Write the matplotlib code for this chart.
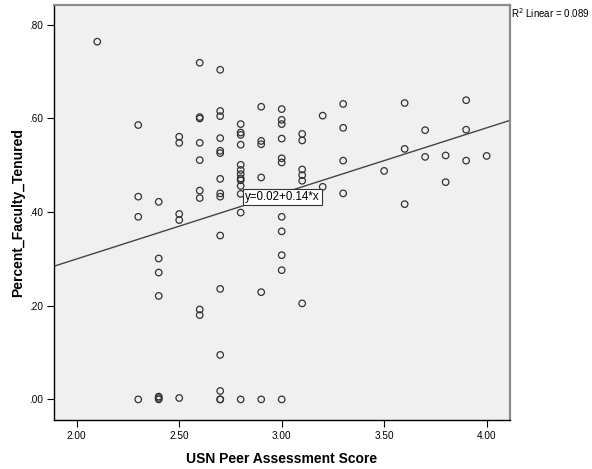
import matplotlib.pyplot as plt
import numpy as np

plt.rcParams['font.family'] = ['Liberation Sans', 'DejaVu Sans']

# USN peer assessment score (x) and percent faculty tenured (y), grouped by score
score = ([2.1] +
         [2.3] * 4 +
         [2.4] * 7 +
         [2.5] * 5 +
         [2.6] * 9 +
         [2.7] * 15 +
         [2.8] * 13 +
         [2.9] * 6 +
         [3.0] * 11 +
         [3.1] * 6 +
         [3.2] * 2 +
         [3.3] * 4 +
         [3.5] +
         [3.6] * 3 +
         [3.7] * 2 +
         [3.8] * 2 +
         [3.9] * 3 +
         [4.0])
tenured = ([0.764] +
           [0.586, 0.433, 0.390, 0.0] +
           [0.422, 0.301, 0.271, 0.221, 0.0, 0.003, 0.006] +
           [0.561, 0.548, 0.396, 0.383, 0.003] +
           [0.719, 0.603, 0.600, 0.548, 0.511, 0.446, 0.430, 0.192, 0.180] +
           [0.704, 0.616, 0.605, 0.558, 0.531, 0.526, 0.471, 0.440, 0.433,
            0.350, 0.236, 0.095, 0.018, 0.0, 0.0] +
           [0.588, 0.570, 0.565, 0.544, 0.501, 0.490, 0.481, 0.472, 0.468,
            0.456, 0.439, 0.399, 0.0] +
           [0.625, 0.552, 0.545, 0.474, 0.229, 0.0] +
           [0.620, 0.597, 0.588, 0.557, 0.515, 0.506, 0.390, 0.359, 0.308,
            0.276, 0.0] +
           [0.567, 0.553, 0.491, 0.479, 0.467, 0.205] +
           [0.606, 0.454] +
           [0.631, 0.580, 0.510, 0.440] +
           [0.488] +
           [0.633, 0.535, 0.417] +
           [0.575, 0.518] +
           [0.521, 0.464] +
           [0.639, 0.576, 0.510] +
           [0.520])

# linear fit shown on the chart
fit_intercept = 0.02
fit_slope = 0.14
r2_linear = 0.089

x_ticks = [2.0, 2.5, 3.0, 3.5, 4.0]
x_tick_labels = ['2.00', '2.50', '3.00', '3.50', '4.00']
y_ticks = [0.0, 0.2, 0.4, 0.6, 0.8]
y_tick_labels = ['.00', '.20', '.40', '.60', '.80']

fig = plt.figure(figsize=(5.92, 4.69), dpi=100)
ax = fig.add_axes([54 / 592, 1 - 420 / 469, (510 - 54) / 592, (420 - 4.7) / 469])
ax.set_facecolor('#f0f0f0')

xlim = (1.889, 4.114)
ax.set_xlim(xlim)
ax.set_ylim(-0.044, 0.843)

ax.scatter(score, tenured, s=22, facecolors='none', edgecolors='#333333',
           linewidths=0.9, zorder=3)

# fit line across the full x range
xs = np.array(xlim)
ax.plot(xs, fit_intercept + fit_slope * xs, color='#444444', lw=1.0, zorder=2)

ax.text(2.822, 0.419, 'y=0.02+0.14*x', fontsize=8.3, ha='left', va='bottom',
        zorder=4,
        bbox=dict(boxstyle='square,pad=0.15', fc='white', ec='#333333', lw=0.8))

ax.set_xticks(x_ticks)
ax.set_xticklabels(x_tick_labels)
ax.set_yticks(y_ticks)
ax.set_yticklabels(y_tick_labels)
ax.tick_params(direction='out', length=5, width=0.8, labelsize=7.2,
               colors='black', pad=3)

ax.spines['left'].set_color('black')
ax.spines['bottom'].set_color('black')
ax.spines['left'].set_linewidth(1.0)
ax.spines['bottom'].set_linewidth(1.0)
ax.spines['top'].set_color('#8c8c8c')
ax.spines['right'].set_color('#8c8c8c')
ax.spines['top'].set_linewidth(1.6)
ax.spines['right'].set_linewidth(1.6)

ax.set_xlabel('USN Peer Assessment Score', fontsize=10, fontweight='bold',
              labelpad=8)
ax.set_ylabel('Percent_Faculty_Tenured', fontsize=10, fontweight='bold',
              labelpad=3)

fig.text(511 / 592, 1 - 13.5 / 469, 'R$^2$ Linear = %.3f' % r2_linear,
         fontsize=7, ha='left', va='center')

fig.savefig('out.png', dpi=100)
